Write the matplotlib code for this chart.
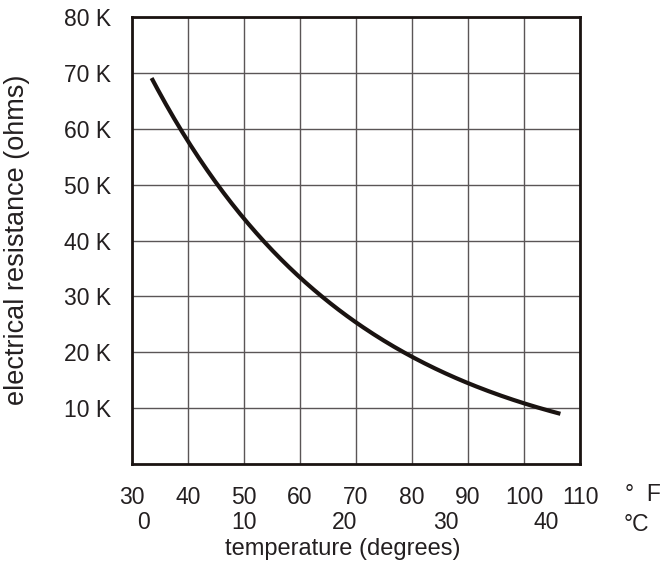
import matplotlib.pyplot as plt
import numpy as np

plt.rcParams['font.family'] = ['Liberation Sans', 'DejaVu Sans']

# curva resistencia x temperatura
temp_f = np.array([33.5, 40, 50, 60, 70, 80, 90, 100, 106.5])
resist_k = np.array([68.9, 58.4, 43.2, 33.6, 25.3, 19.3, 14.6, 10.6, 9.1])

f_ticks = [30, 40, 50, 60, 70, 80, 90, 100, 110]
c_ticks = [0, 10, 20, 30, 40]
y_ticks = [10, 20, 30, 40, 50, 60, 70, 80]
y_labels = ['10 K', '20 K', '30 K', '40 K', '50 K', '60 K', '70 K', '80 K']

# ajuste suave (log) so para desenhar a linha
xs = np.linspace(temp_f[0], temp_f[-1], 200)
coef = np.polyfit(temp_f, np.log(resist_k), 3)
ys = np.exp(np.polyval(coef, xs))

fig = plt.figure(figsize=(6.62, 5.62), dpi=100)
ax = fig.add_axes([132/662, 98/562, 448/662, 447/562])

ax.plot(xs, ys, color='#1a1311', lw=3, solid_capstyle='butt')

ax.set_xlim(30, 110)
ax.set_ylim(0, 80)
ax.set_xticks(f_ticks)
ax.set_xticklabels([str(t) for t in f_ticks])
ax.set_yticks(y_ticks)
ax.set_yticklabels(y_labels)
ax.tick_params(length=0, labelsize=16.5, colors='#231f20')
ax.tick_params(axis='x', pad=16)
ax.tick_params(axis='y', pad=15)
ax.grid(True, color='#5a5556', lw=1.0)
for s in ax.spines.values():
    s.set_linewidth(2)
    s.set_color('#1a1311')

trans = ax.get_xaxis_transform()
for c in c_ticks:
    ax.text(c * 9 / 5 + 32, -0.13, str(c), transform=trans, ha='center', va='center',
            fontsize=16.5, color='#231f20')
ax.text(1.14, -0.069, '°  F', transform=ax.transAxes, ha='center', va='center',
        fontsize=16.5, color='#231f20')
ax.text(1.125, -0.135, '°C', transform=ax.transAxes, ha='center', va='center',
        fontsize=16.5, color='#231f20')
ax.text(0.47, -0.19, 'temperature (degrees)', transform=ax.transAxes, ha='center',
        va='center', fontsize=17, color='#231f20')
fig.text(17/662, 1 - 240/562, 'electrical resistance (ohms)', rotation=90,
         ha='center', va='center', fontsize=19.5, color='#231f20')

fig.savefig('out.png', dpi=100)
